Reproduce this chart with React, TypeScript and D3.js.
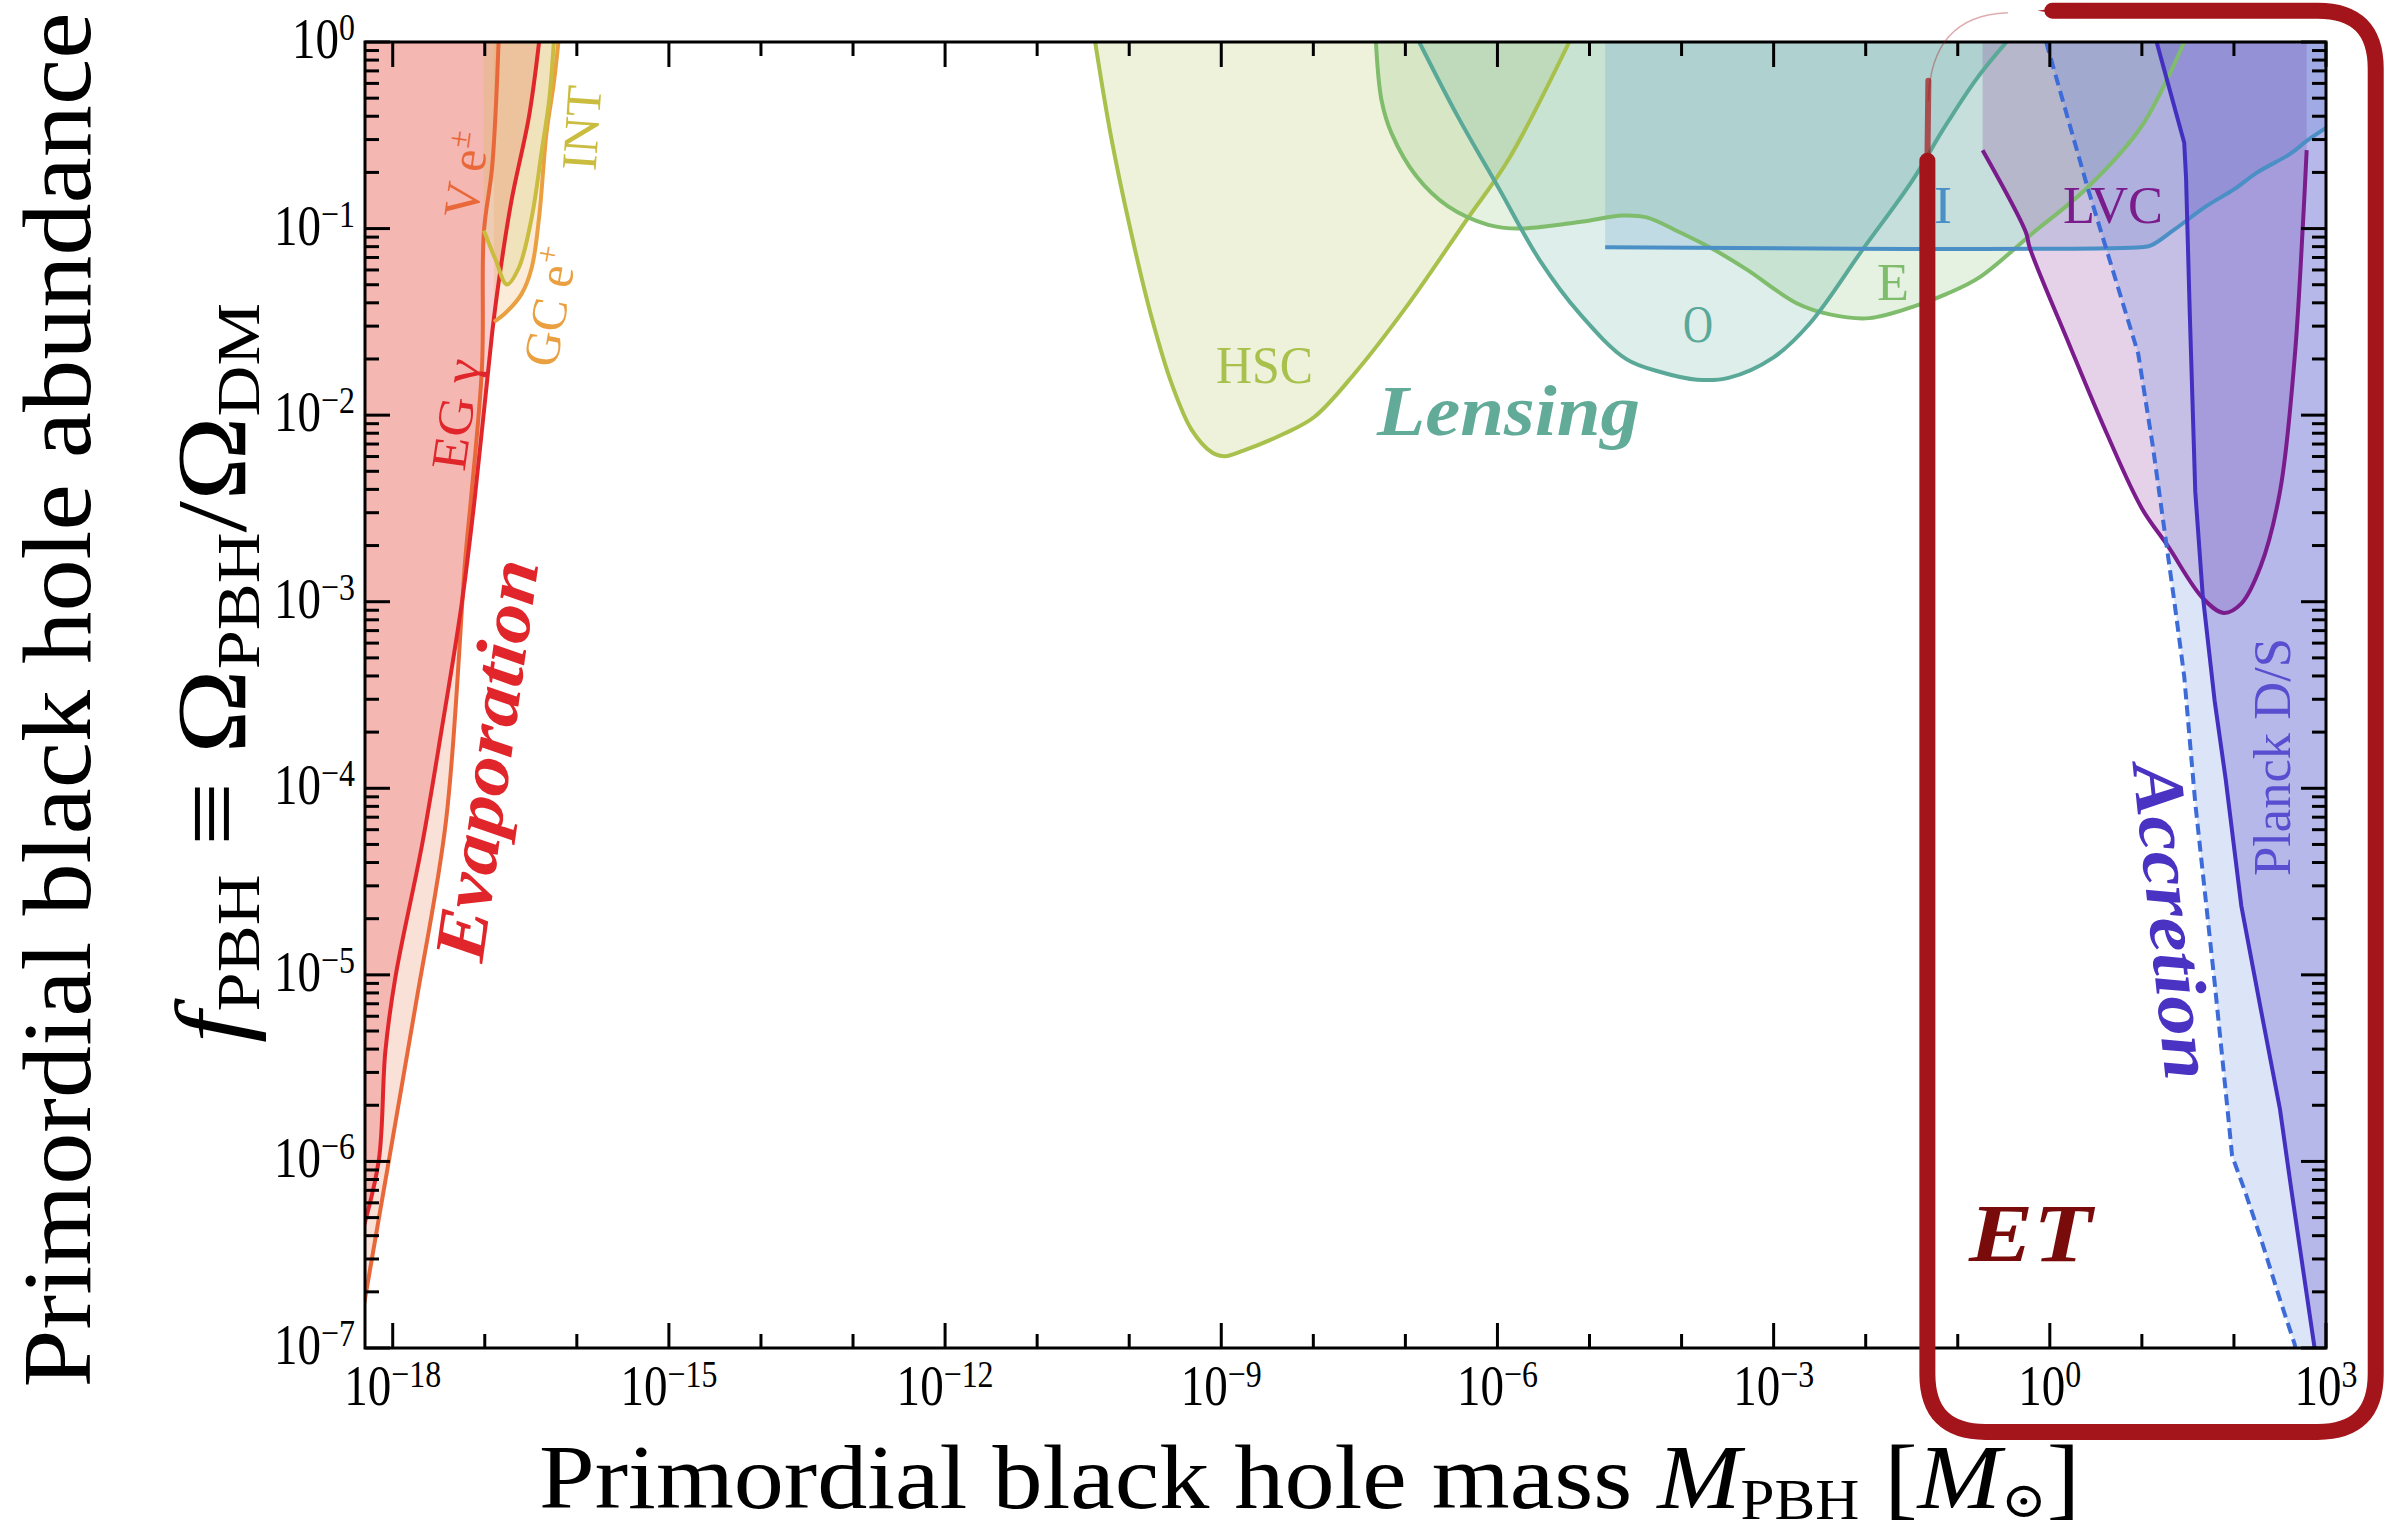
import React from "react";
import * as d3 from "d3";

type P = [number, number];

const W = 2402;
const H = 1535;
const plot = { left: 365, right: 2326, top: 42, bottom: 1348 };

const massDomain: [number, number] = [5e-19, 1e3];
const fDomain: [number, number] = [1e-7, 1];

// constraint boundaries, as [log10(M / Msun), log10 f_PBH]
const egGamma: P[] = [[-18.32, -6.36], [-18.15, -5.99], [-18.08, -5.41], [-17.97, -5.01], [-17.68, -4.30], [-17.47, -3.69], [-17.25, -3.01], [-17.11, -2.45], [-16.92, -1.56], [-16.85, -1.29], [-16.71, -0.85], [-16.52, -0.40], [-16.41, 0]];
const vElectron: P[] = [[-18.32, -6.79], [-18.04, -5.99], [-17.75, -5.16], [-17.42, -4.17], [-17.21, -2.76], [-17.15, -2.45], [-17.03, -1.74], [-17.01, -1.02], [-16.92, -0.67], [-16.85, 0]];
const gcPositron: P[] = [[-16.90, -1.50], [-16.77, -1.45], [-16.60, -1.35], [-16.49, -1.21], [-16.41, -0.94], [-16.33, -0.49], [-16.25, -0.22], [-16.20, 0]];
const integral: P[] = [[-17.01, -1.01], [-16.88, -1.17], [-16.76, -1.30], [-16.63, -1.21], [-16.49, -0.94], [-16.38, -0.58], [-16.30, -0.31], [-16.25, 0]];
const hsc: P[] = [[-10.37, 0], [-10.2, -0.5], [-9.98, -1.02], [-9.76, -1.47], [-9.54, -1.83], [-9.32, -2.08], [-9.10, -2.20], [-8.96, -2.22], [-8.76, -2.19], [-8.32, -2.10], [-7.99, -2.01], [-7.54, -1.77], [-6.99, -1.42], [-6.33, -0.95], [-5.88, -0.63], [-5.22, 0]];
const eros: P[] = [[-7.32, 0], [-7.26, -0.31], [-7.15, -0.49], [-6.88, -0.72], [-6.54, -0.88], [-6.10, -0.98], [-5.77, -1.00], [-5.11, -0.965], [-4.64, -0.93], [-4.38, -0.94], [-4.02, -1.02], [-3.66, -1.11], [-3.29, -1.22], [-2.75, -1.40], [-2.39, -1.46], [-1.96, -1.48], [-1.49, -1.42], [-1.12, -1.35], [-0.76, -1.26], [-0.2, -1.03], [0.41, -0.78], [1.0, -0.45], [1.46, 0]];
const ogle: P[] = [[-6.85, 0], [-6.43, -0.40], [-5.99, -0.78], [-5.54, -1.17], [-5.10, -1.46], [-4.60, -1.70], [-4.22, -1.77], [-3.83, -1.81], [-3.49, -1.80], [-3.0, -1.69], [-2.61, -1.51], [-2.03, -1.11], [-1.49, -0.74], [-1.16, -0.47], [-0.80, -0.2], [-0.47, 0]];
const icarus: P[] = [[-4.83, -1.10], [0.98, -1.10], [1.1, -1.09], [1.34, -1.01], [1.70, -0.88], [2.0, -0.79], [2.25, -0.70], [2.61, -0.60], [2.79, -0.53], [3.0, -0.46]];
const lvc: P[] = [[-0.73, -0.58], [-0.26, -1.02], [-0.22, -1.10], [0.21, -1.62], [0.62, -2.10], [1.0, -2.50], [1.28, -2.70], [1.66, -2.98], [1.89, -3.06], [2.08, -3.01], [2.29, -2.81], [2.50, -2.41], [2.66, -1.69], [2.75, -0.97], [2.79, -0.58]];
const planckPhoto: P[] = [[-0.04, 0], [0.41, -0.78], [0.96, -1.67], [1.12, -2.17], [1.35, -2.99], [1.46, -3.40], [1.58, -4.08], [1.79, -5.04], [1.93, -5.72], [1.98, -5.97], [2.12, -6.16], [2.29, -6.41], [2.50, -6.74], [2.66, -6.98], [2.68, -7.05]];
const planckDS: P[] = [[1.16, 0], [1.46, -0.54], [1.48, -0.73], [1.52, -1.45], [1.58, -2.41], [1.66, -2.96], [1.79, -3.53], [1.91, -3.95], [2.08, -4.63], [2.29, -5.18], [2.50, -5.72], [2.62, -6.14], [2.87, -6.98], [2.89, -7.05]];

const xLabelExps = [-18, -15, -12, -9, -6, -3, 0, 3];
const xTickExps = d3.range(-18, 4);
const yTickExps = d3.range(-7, 1);

// ET band drawn around the ground-based detector reach (log units)
const etBox = { mLo: -1.33, mHi: 3.54, fLo: -7.45, fHi: 0.168 };

const C = {
  red: "#e0262b",
  vOrange: "#e8683a",
  gcOrange: "#eaa040",
  intYellow: "#c9bc3f",
  hsc: "#a8c04c",
  eros: "#7fbc6c",
  ogle: "#5aa898",
  icarus: "#4a8fc6",
  lvc: "#7b1c8c",
  photo: "#3d6cd8",
  planck: "#4330c0",
  et: "#a3151a",
};

const serif = "'Liberation Serif', 'DejaVu Serif', serif";

export default function App() {
  const x = d3.scaleLog().domain(massDomain).range([plot.left, plot.right]);
  const y = d3.scaleLog().domain(fDomain).range([plot.bottom, plot.top]);
  const toPx = (p: P): [number, number] => [x(10 ** p[0]), y(10 ** p[1])];
  const smooth = d3.line().curve(d3.curveCatmullRom.alpha(0.5));
  const linear = d3.line();
  const pathOf = (pts: P[], curved: boolean) => (curved ? smooth : linear)(pts.map(toPx)) as string;
  const lineTo = (pts: P[]) => pts.map((p) => { const [a, b] = toPx(p); return `L${a},${b}`; }).join("");
  const above = 0.3;
  const last = (pts: P[]) => pts[pts.length - 1];
  const topFill = (pts: P[], curved = true) => pathOf(pts, curved) + lineTo([[last(pts)[0], above], [pts[0][0], above]]) + "Z";
  const leftFill = (pts: P[], curved = true) => pathOf(pts, curved) + lineTo([[last(pts)[0], above], [-18.6, above], [-18.6, pts[0][1]]]) + "Z";
  const rightFill = (pts: P[], curved = true) => pathOf(pts, curved) + lineTo([[3.3, last(pts)[1]], [3.3, above], [pts[0][0], above]]) + "Z";

  const layers = [
    { key: "v", pts: vElectron, color: C.vOrange, fill: leftFill, alpha: 0.2, curved: true },
    { key: "eg", pts: egGamma, color: C.red, fill: leftFill, alpha: 0.22, curved: true },
    { key: "gc", pts: gcPositron, color: C.gcOrange, fill: topFill, alpha: 0.2, curved: true },
    { key: "int", pts: integral, color: C.intYellow, fill: topFill, alpha: 0.2, curved: true },
    { key: "hsc", pts: hsc, color: C.hsc, fill: topFill, alpha: 0.2, curved: true },
    { key: "eros", pts: eros, color: C.eros, fill: topFill, alpha: 0.2, curved: true },
    { key: "ogle", pts: ogle, color: C.ogle, fill: topFill, alpha: 0.2, curved: true },
    { key: "icarus", pts: icarus, color: C.icarus, fill: rightFill, alpha: 0.2, curved: true },
    { key: "lvc", pts: lvc, color: C.lvc, fill: topFill, alpha: 0.2, curved: true },
    { key: "photo", pts: planckPhoto, color: C.photo, fill: rightFill, alpha: 0.18, curved: false, dash: "11,6" },
    { key: "planck", pts: planckDS, color: C.planck, fill: rightFill, alpha: 0.24, curved: false },
  ];

  const ticks: JSX.Element[] = [];
  xTickExps.forEach((e) => {
    const xx = x(10 ** e);
    const len = e % 3 === 0 ? 25 : 14;
    ticks.push(<line key={`xb${e}`} x1={xx} x2={xx} y1={plot.bottom} y2={plot.bottom - len} />);
    ticks.push(<line key={`xt${e}`} x1={xx} x2={xx} y1={plot.top} y2={plot.top + len} />);
  });
  yTickExps.forEach((e) => {
    const vals = [{ v: 10 ** e, len: 25 }];
    if (e < 0) d3.range(2, 10).forEach((m) => vals.push({ v: m * 10 ** e, len: 14 }));
    vals.forEach(({ v, len }, i) => {
      const yy = y(v);
      ticks.push(<line key={`yl${e}_${i}`} x1={plot.left} x2={plot.left + len} y1={yy} y2={yy} />);
      ticks.push(<line key={`yr${e}_${i}`} x1={plot.right} x2={plot.right - len} y1={yy} y2={yy} />);
    });
  });

  const L = x(10 ** etBox.mLo), R = x(10 ** etBox.mHi), T = y(10 ** etBox.fHi), B = y(10 ** etBox.fLo);
  const r = 58;
  const etPath = `M${L + 125},${T} L${R - r},${T} Q${R},${T} ${R},${T + r} L${R},${B - r} Q${R},${B} ${R - r},${B} L${L + r},${B} Q${L},${B} ${L},${B - r} L${L},${T + 150}`;

  const rotLabel = (key: string, cx: number, cy: number, angle: number, size: number, len: number, color: string, content: React.ReactNode, bold = false, dy = "0.3em") => (
    <text key={key} transform={`translate(${cx},${cy}) rotate(${angle})`} textAnchor="middle" dy={dy} fontSize={size} fill={color}
      fontWeight={bold ? "bold" : "normal"} fontStyle={bold ? "italic" : "normal"} textLength={len} lengthAdjust="spacingAndGlyphs">{content}</text>
  );

  return (
    <svg width={W} height={H} viewBox={`0 0 ${W} ${H}`} style={{ position: "absolute", left: 0, top: 0, background: "#fff" }} fontFamily={serif}>
      <defs>
        <clipPath id="plotClip">
          <rect x={plot.left} y={plot.top} width={plot.right - plot.left} height={plot.bottom - plot.top} />
        </clipPath>
      </defs>
      <g clipPath="url(#plotClip)">
        {layers.map((l) => (
          <path key={`f${l.key}`} d={l.fill(l.pts, l.curved)} fill={l.color} fillOpacity={l.alpha} stroke="none" />
        ))}
        {layers.map((l) => (
          <path key={`l${l.key}`} d={pathOf(l.pts, l.curved)} fill="none" stroke={l.color} strokeWidth={4} strokeDasharray={l.dash} strokeLinejoin="round" />
        ))}
      </g>

      {/* constraint labels */}
      {rotLabel("eg", 460, 415, -82, 50, 112, C.red, <>EG γ</>, false, "0.25em")}
      {rotLabel("v", 468, 175, -82, 50, 86, C.vOrange, <>V e<tspan fontSize={32} dy={-18}>±</tspan></>)}
      {rotLabel("gc", 552, 307, -80, 50, 120, C.gcOrange, <>GC e<tspan fontSize={32} dy={-18}>+</tspan></>)}
      {rotLabel("int", 582, 128, -86, 50, 85, C.intYellow, <>INT</>, false, "0.33em")}
      <text x={1216} y={383} fontSize={52} fill={C.hsc} textLength={97} lengthAdjust="spacingAndGlyphs">HSC</text>
      <text x={1683} y={342} fontSize={52} fill={C.ogle} textLength={30} lengthAdjust="spacingAndGlyphs">O</text>
      <text x={1877} y={300} fontSize={52} fill={C.eros} textLength={32} lengthAdjust="spacingAndGlyphs">E</text>
      <text x={1934} y={223} fontSize={52} fill={C.icarus} textLength={18} lengthAdjust="spacingAndGlyphs">I</text>
      <text x={2063} y={223} fontSize={52} fill={C.lvc} textLength={100} lengthAdjust="spacingAndGlyphs">LVC</text>
      <text transform="translate(2290,757) rotate(-90)" textAnchor="middle" fontSize={52} fill="#5a4ed0" textLength={238} lengthAdjust="spacingAndGlyphs">Planck D/S</text>

      {rotLabel("evap", 494, 761, -82, 72, 405, C.red, <>Evaporation</>, true, "0.23em")}
      <text x={1377} y={435} fontSize={72} fill="#62ab98" fontWeight="bold" fontStyle="italic" textLength={263} lengthAdjust="spacingAndGlyphs">Lensing</text>
      {rotLabel("acc", 2173, 921, 84, 72, 318, "#4a32c2", <>Accretion</>, true, "0.33em")}

      {/* frame and ticks */}
      <g stroke="#000" strokeWidth={3}>{ticks}</g>
      <rect x={plot.left} y={plot.top} width={plot.right - plot.left} height={plot.bottom - plot.top} fill="none" stroke="#000" strokeWidth={3} />

      {/* tick labels */}
      {yTickExps.map((e) => (
        <g key={`ylab${e}`} transform={`translate(355,${y(10 ** e) + 16}) scale(0.84,1)`}>
          <text textAnchor="end" fontSize={56} fill="#000">10<tspan fontSize={38} dy={-18}>{e === 0 ? "0" : `−${-e}`}</tspan></text>
        </g>
      ))}
      {xLabelExps.map((e) => (
        <g key={`xlab${e}`} transform={`translate(${x(10 ** e)},1405) scale(0.84,1)`}>
          <text textAnchor="middle" fontSize={56} fill="#000">10<tspan fontSize={38} dy={-18}>{e < 0 ? `−${-e}` : `${e}`}</tspan></text>
        </g>
      ))}

      {/* axis titles */}
      <text x={539} y={1508} fontSize={92} fill="#000" textLength={1541} lengthAdjust="spacingAndGlyphs">
        Primordial black hole mass <tspan fontStyle="italic">M</tspan><tspan fontSize={56} dy={11}>PBH</tspan><tspan dy={-11}> [</tspan><tspan fontStyle="italic">M</tspan><tspan fontSize={50} dy={9}>⊙</tspan><tspan dy={-9}>]</tspan>
      </text>
      <text transform="translate(90,700) rotate(-90)" textAnchor="middle" fontSize={98} fill="#000" textLength={1375} lengthAdjust="spacingAndGlyphs">
        Primordial black hole abundance
      </text>
      <text transform="translate(245,673) rotate(-90)" textAnchor="middle" fontSize={100} fill="#000" textLength={740} lengthAdjust="spacingAndGlyphs">
        <tspan fontStyle="italic">f</tspan><tspan fontSize={62} dy={14}>PBH</tspan><tspan dy={-14}> ≡ Ω</tspan><tspan fontSize={62} dy={14}>PBH</tspan><tspan dy={-14}>/Ω</tspan><tspan fontSize={62} dy={14}>DM</tspan>
      </text>

      {/* ET highlight */}
      <g fill="none" stroke={C.et} strokeLinecap="round">
        <path d={etPath} strokeWidth={16} />
        <path d={`M${L},${T + 155} L${L + 1},${T + 70}`} strokeWidth={6} opacity={0.7} />
        <path d={`M${L + 1},${T + 90} Q${L + 3},${T + 5} ${L + 80},${T + 2}`} strokeWidth={1.5} opacity={0.35} />
      </g>
      <path d={`M${L + 110},${T} L${L + 160},${T - 7} L${L + 160},${T + 7} Z`} fill={C.et} />
      <text x={1969} y={1261} fontSize={82} fill="#7a0b0b" fontWeight="bold" fontStyle="italic" textLength={123} lengthAdjust="spacingAndGlyphs">ET</text>
    </svg>
  );
}
